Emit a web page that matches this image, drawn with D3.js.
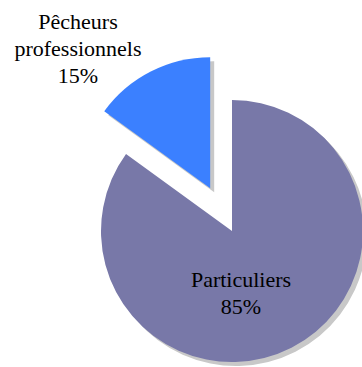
<!DOCTYPE html>
<html>
<head>
<meta charset="utf-8">
<script src="https://cdn.jsdelivr.net/npm/d3@7"></script>
<style>
  html, body { margin: 0; padding: 0; background: #ffffff; }
  svg { display: block; }
</style>
</head>
<body>
<svg id="chart" width="362" height="367"></svg>
<script>
// Répartition des pêcheurs
const categories = ["Particuliers", "Pêcheurs professionnels"];
const values = [85, 15];
const colors = ["#7878a8", "#3b80ff"];
const labelLines = [["Particuliers", "85%"], ["Pêcheurs", "professionnels", "15%"]];

const W = 362, H = 367;
const cx = 232, cy = 231, R = 131;
const explode = [0, 48];
const shadow = { dx: 4, dy: 4, color: "#c8c8c8" };
// label block centre (x) and first baseline (y), relative to the pie centre
const labelPos = [[9, 56], [-154, -202]];
const lineH = 27;

const svg = d3.select("#chart");
const pie = d3.pie().sort(null).startAngle(0).endAngle(2 * Math.PI);
const arcs = pie(values);
const arc = d3.arc().innerRadius(0).outerRadius(R);

function offset(d, i) {
  const a = (d.startAngle + d.endAngle) / 2;
  return [Math.sin(a) * explode[i], -Math.cos(a) * explode[i]];
}

const g = svg.append("g").attr("transform", `translate(${cx},${cy})`);

// drop shadows
g.selectAll("path.shadow").data(arcs).join("path")
  .attr("class", "shadow")
  .attr("d", arc)
  .attr("fill", shadow.color)
  .attr("transform", (d, i) => {
    const [ox, oy] = offset(d, i);
    return `translate(${ox + shadow.dx},${oy + shadow.dy})`;
  });

// slices
g.selectAll("path.slice").data(arcs).join("path")
  .attr("class", "slice")
  .attr("d", arc)
  .attr("fill", (d, i) => colors[i])
  .attr("transform", (d, i) => {
    const [ox, oy] = offset(d, i);
    return `translate(${ox},${oy})`;
  });

// labels: one text element per line
labelLines.forEach((lines, i) => {
  lines.forEach((s, j) => {
    svg.append("text")
      .attr("x", cx + labelPos[i][0])
      .attr("y", cy + labelPos[i][1] + j * lineH)
      .attr("text-anchor", "middle")
      .attr("font-family", "Liberation Serif")
      .attr("font-size", 22)
      .style("font-family", '"Liberation Serif"')
      .style("font-size", "22px")
      .style("fill", "#000")
      .text(s);
  });
});
</script>
</body>
</html>
